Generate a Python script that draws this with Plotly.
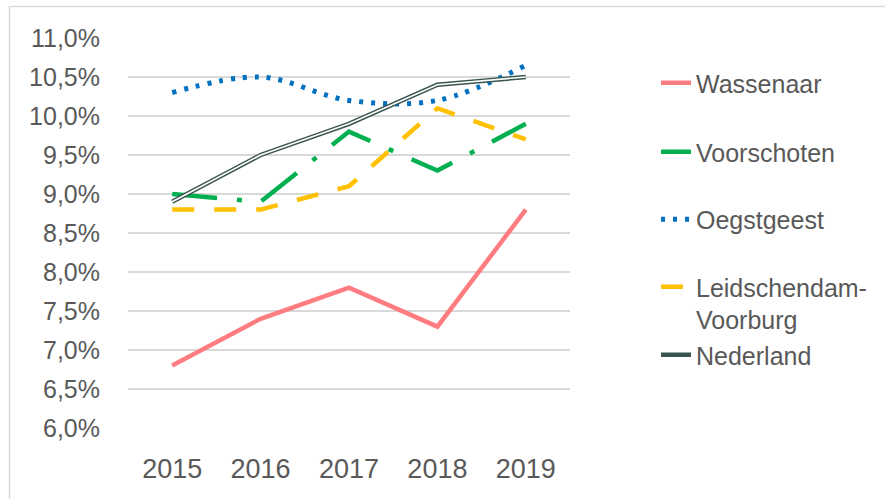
import plotly.graph_objects as go

# ---- data ----
years = ["2015", "2016", "2017", "2018", "2019"]
wassenaar = [6.8, 7.4, 7.8, 7.3, 8.8]
voorschoten = [9.0, 8.9, 9.8, 9.3, 9.9]
oegstgeest = [10.3, 10.5, 10.2, 10.2, 10.65]
leidschendam_voorburg = [8.8, 8.8, 9.1, 10.1, 9.7]
nederland = [8.9, 9.5, 9.9, 10.4, 10.5]
series_names = ["Wassenaar", "Voorschoten", "Oegstgeest",
                "Leidschendam-<br>Voorburg", "Nederland"]
y_tick_values = [6.0, 6.5, 7.0, 7.5, 8.0, 8.5, 9.0, 9.5, 10.0, 10.5, 11.0]
y_tick_labels = ["6,0%", "6,5%", "7,0%", "7,5%", "8,0%", "8,5%",
                 "9,0%", "9,5%", "10,0%", "10,5%", "11,0%"]

# ---- layout geometry (pixels) ----
W, H = 885, 499
L, R, T, B = 128, 315, 38, 71
pw, ph = W - L - R, H - T - B


def px_x(x):
    return (x - L) / pw


def px_y(y):
    return (H - B - y) / ph


TXT = "#595959"
FONT = "Liberation Sans, Arial, sans-serif"

fig = go.Figure()

fig.add_trace(go.Scatter(
    x=years, y=wassenaar, name=series_names[0], mode="lines",
    line=dict(color="#FF7C80", width=4.5), legend="legend"))
fig.add_trace(go.Scatter(
    x=years, y=voorschoten, name=series_names[1], mode="lines",
    line=dict(color="#00B050", width=4.5, dash="45px,20px,5px,20px"),
    legend="legend2"))
fig.add_trace(go.Scatter(
    x=years, y=oegstgeest, name=series_names[2], mode="lines",
    line=dict(color="#0070C0", width=5, dash="4px,8px", shape="spline", smoothing=1.0),
    legend="legend3"))
fig.add_trace(go.Scatter(
    x=years, y=leidschendam_voorburg, name=series_names[3], mode="lines",
    line=dict(color="#FFC000", width=4.5, dash="22px,20px"),
    legend="legend4"))
fig.add_trace(go.Scatter(
    x=years, y=nederland, name=series_names[4], mode="lines",
    line=dict(color="#38544F", width=4.5), legend="legend5",
    legendgroup="ned"))
fig.add_trace(go.Scatter(
    x=years, y=nederland, name=series_names[4], mode="lines",
    line=dict(color="#FFFFFF", width=1.6), showlegend=False,
    legendgroup="ned", hoverinfo="skip"))

legend_x = px_x(656)
common_legend = dict(x=legend_x, xanchor="left", yanchor="middle",
                     bgcolor="rgba(0,0,0,0)", borderwidth=0,
                     font=dict(family=FONT, size=25, color=TXT))
fig.update_layout(
    width=W, height=H,
    margin=dict(l=L, r=R, t=T, b=B, pad=0),
    paper_bgcolor="white", plot_bgcolor="white",
    font=dict(family=FONT, color=TXT),
    legend=dict(y=px_y(83), **common_legend),
    legend2=dict(y=px_y(152), **common_legend),
    legend3=dict(y=px_y(219.5), **common_legend),
    legend4=dict(y=px_y(303), valign="top", **common_legend),
    legend5=dict(y=px_y(355), **common_legend),
    xaxis=dict(type="category", range=[-0.5, 4.5], showgrid=False,
               showline=False, zeroline=False, ticks="",
               ticklabelstandoff=22,
               tickfont=dict(family=FONT, size=27, color=TXT)),
    yaxis=dict(range=[6.0, 11.0], tickvals=y_tick_values, ticktext=y_tick_labels,
               showgrid=True, gridcolor="#D9D9D9", gridwidth=1.5,
               showline=False, zeroline=False, ticks="",
               ticklabelstandoff=27,
               tickfont=dict(family=FONT, size=25, color=TXT)),
    shapes=[dict(type="rect", xref="paper", yref="paper",
                 x0=px_x(9.5), x1=px_x(W + 10), y0=px_y(H + 10), y1=px_y(6.5),
                 line=dict(color="#D9D9D9", width=1.5), layer="below")],
    showlegend=True,
)

fig.write_html("out.html",
               config={"displayModeBar": False},
               post_script="document.body.style.margin='0';document.body.style.padding='0';")
